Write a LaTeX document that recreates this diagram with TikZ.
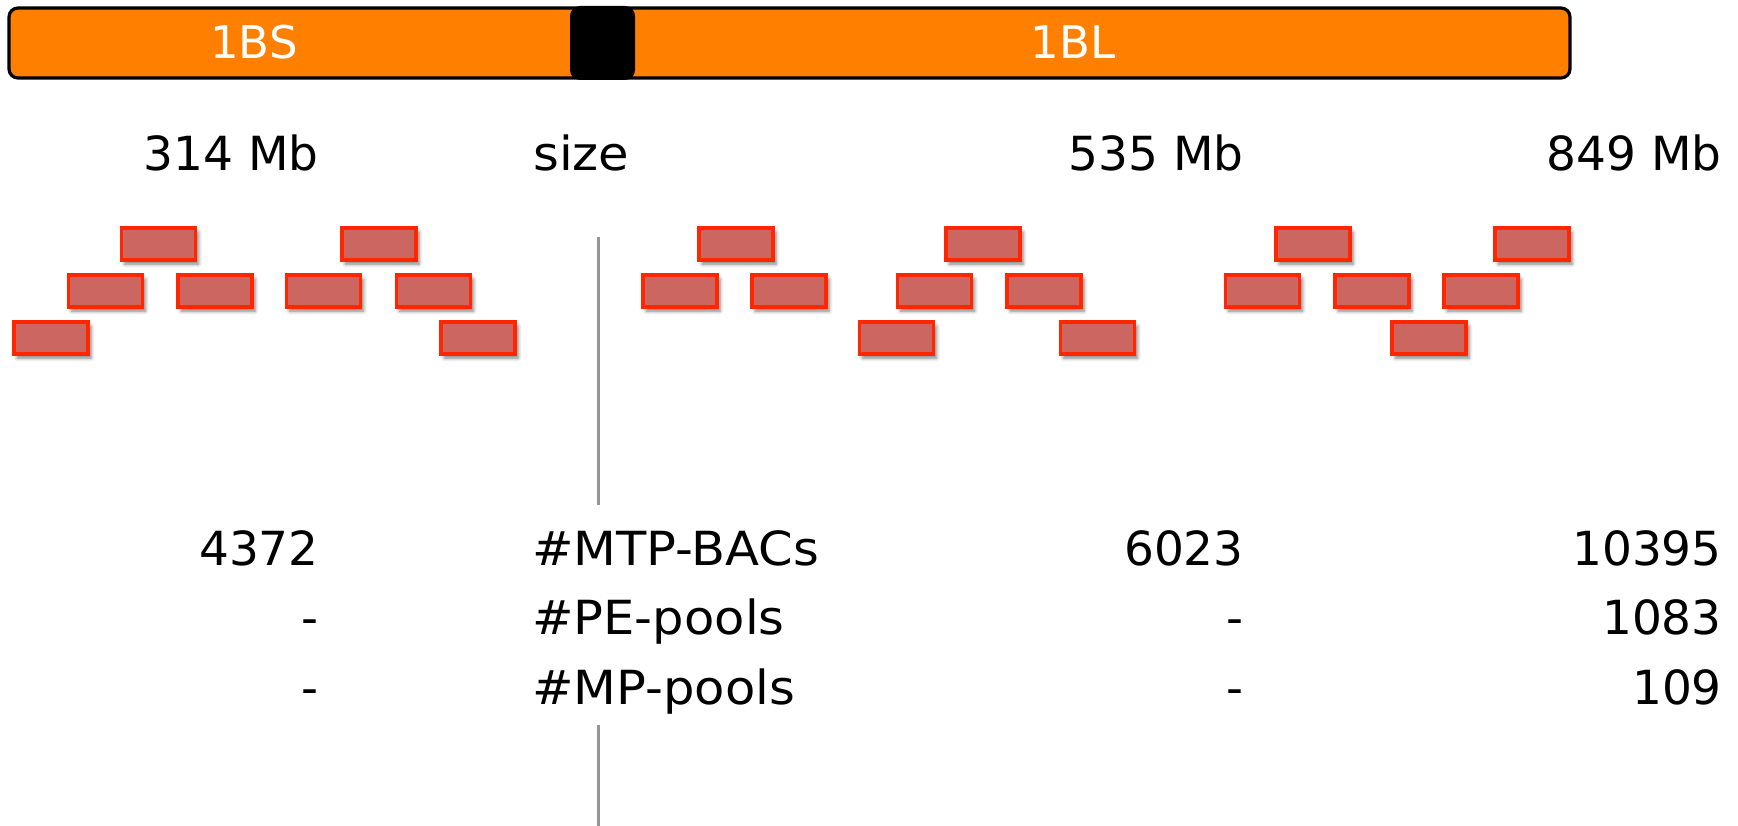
\documentclass[tikz,border=0pt]{standalone}
\usepackage{fontspec}
\setmainfont{DejaVu Sans}
\newfontfamily\widefont[FakeStretch=1.055]{DejaVu Sans}
\usetikzlibrary{shadows.blur}
\definecolor{barorange}{RGB}{255,127,0}
\definecolor{bacfill}{RGB}{204,102,96}
\definecolor{bacdraw}{RGB}{255,38,0}
\definecolor{linegray}{RGB}{150,150,150}
\tikzset{
  bac/.style={draw=bacdraw, fill=bacfill, line width=3.8pt, minimum width=74pt, minimum height=32pt, inner sep=0pt,
    blur shadow={shadow xshift=3pt, shadow yshift=-4pt, shadow blur radius=3.5pt, shadow opacity=50}},
  lbl/.style={font=\fontsize{47}{56}\selectfont, inner sep=0pt},
  numr/.style={lbl, anchor=base east},
  labl/.style={font=\widefont\fontsize{47}{56}\selectfont, inner sep=0pt, anchor=base west},
  armtext/.style={font=\fontsize{45}{54}\selectfont, text=white, inner sep=0pt, anchor=base},
}
\begin{document}
\begin{tikzpicture}[x=1pt,y=-1pt]
\useasboundingbox (0,0) rectangle (1738,826);
% chromosome bar
\draw[line width=3.2pt, fill=barorange, rounded corners=9pt] (9,8) rectangle (1570,78);
\fill[black, rounded corners=10pt] (570,6) rectangle (635,80);
\node[armtext] (bs) at (254,59) {1BS};
\node[armtext] (bl) at (1073,59) {1BL};
% size row
\node[numr] (s1) at (319,171) {314 Mb};
\node[labl] (size) at (533,171) {size};
\node[numr] (s2) at (1244,171) {535 Mb};
\node[numr] (s3) at (1722,171) {849 Mb};
% BAC tiles group 1
\node[bac] (a1) at (158.5,244) {};
\node[bac] (a2) at (379,244) {};
\node[bac] (a3) at (105.5,291) {};
\node[bac] (a4) at (215,291) {};
\node[bac] (a5) at (323.5,291) {};
\node[bac] (a6) at (433.5,291) {};
\node[bac] (a7) at (51,338) {};
\node[bac] (a8) at (478,338) {};
% group 2
\node[bac] (b1) at (736,244) {};
\node[bac] (b2) at (983,244) {};
\node[bac] (b3) at (680,291) {};
\node[bac] (b4) at (789,291) {};
\node[bac] (b5) at (934.5,291) {};
\node[bac] (b6) at (1044,291) {};
\node[bac] (b7) at (896.5,338) {};
\node[bac] (b8) at (1097.5,338) {};
% group 3
\node[bac] (c1) at (1313,244) {};
\node[bac] (c2) at (1532,244) {};
\node[bac] (c3) at (1262.5,291) {};
\node[bac] (c4) at (1372,291) {};
\node[bac] (c5) at (1481,291) {};
\node[bac] (c6) at (1429,338) {};
% gray divider
\coordinate (g1) at (598,237);
\coordinate (g2) at (598,505);
\coordinate (g3) at (598,725);
\coordinate (g4) at (598,826);
\draw[linegray, line width=3pt] (g1) -- (g2);
\draw[linegray, line width=3pt] (g3) -- (g4);
% statistics rows
\node[numr] (m1) at (319,565) {4372};
\node[labl] (mtp) at (532,565) {\#MTP-BACs};
\node[numr] (m2) at (1244,565) {6023};
\node[numr] (m3) at (1722,565) {10395};
\node[numr] (p1) at (319,634) {-};
\node[labl] (pe) at (532,634) {\#PE-pools};
\node[numr] (p2) at (1244,634) {-};
\node[numr] (p3) at (1722,634) {1083};
\node[numr] (q1) at (319,704) {-};
\node[labl] (mp) at (532,704) {\#MP-pools};
\node[numr] (q2) at (1244,704) {-};
\node[numr] (q3) at (1722,704) {109};
\end{tikzpicture}
\end{document}
